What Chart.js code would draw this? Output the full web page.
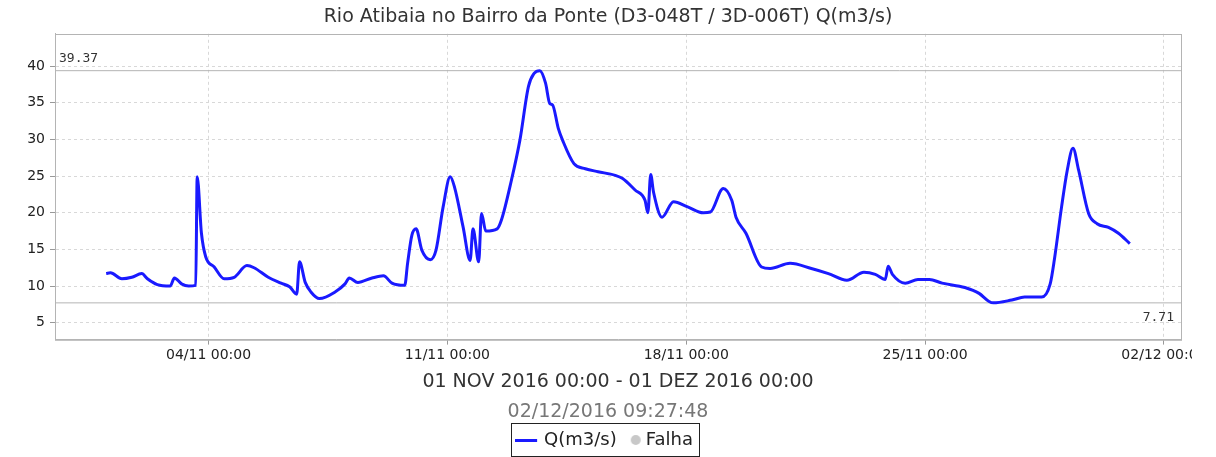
<!DOCTYPE html>
<html>
<head>
<meta charset="utf-8">
<script src="https://cdn.jsdelivr.net/npm/chart.js@4.4.0/dist/chart.umd.min.js"></script>
<style>
html, body { margin: 0; padding: 0; background: #fff; }
#wrap { width: 1192px; height: 457px; overflow: hidden; }
</style>
</head>
<body>
<div id="wrap"><canvas id="vazao" width="1216" height="457"></canvas></div>
<script>
// horas desde 01/11/2016 00:00
const hours = [0, 3, 11, 18, 25, 29, 36, 45, 48, 53, 58, 63, 64, 67, 70, 76, 83, 90, 99, 104,
  114, 123, 129, 134, 136, 140, 144, 150, 161, 168, 171, 177, 187, 195, 201, 210, 212, 215, 218, 222,
  228, 232, 237, 242, 245, 251, 256, 258, 262, 264, 267, 275, 278, 285, 291, 297, 301, 305, 309, 312,
  314, 318, 321, 329, 337, 346, 358, 363, 372, 379, 381, 383, 385, 391, 399, 409, 420, 425, 434, 440,
  443, 450, 461, 467, 481, 496, 508, 521, 533, 541, 548, 550, 553, 562, 571, 579, 588, 604, 614, 621,
  624, 637, 646, 658, 664, 667, 672, 676, 680, 684, 691, 697, 705, 712, 720];
const flow = [11.7, 11.8, 11.0, 11.2, 11.7, 11.0, 10.2, 10.0, 11.1, 10.3, 10.0, 10.1, 24.9, 17.2, 14.0, 12.6, 11.0, 11.2, 12.8, 12.5,
  11.2, 10.4, 9.9, 8.9, 13.3, 10.5, 9.2, 8.3, 9.2, 10.3, 11.1, 10.5, 11.1, 11.4, 10.4, 10.1, 13.1, 16.9, 17.8, 14.9,
  13.6, 14.9, 20.8, 24.9, 23.5, 18.1, 13.5, 17.8, 13.3, 19.9, 17.5, 17.8, 19.0, 24.4, 29.9, 37.2, 39.0, 39.37, 37.7, 34.9,
  34.7, 31.5, 29.9, 26.7, 26.0, 25.6, 25.1, 24.7, 23.1, 21.7, 20.0, 25.2, 22.8, 19.4, 21.5, 20.8, 20.0, 20.1, 23.3, 21.7,
  19.4, 17.2, 12.6, 12.4, 13.1, 12.4, 11.7, 10.8, 11.9, 11.6, 10.9, 12.7, 11.6, 10.4, 10.9, 10.9, 10.4, 9.8, 9.0, 7.9,
  7.71, 8.1, 8.5, 8.5, 10.3, 13.7, 20.8, 25.8, 28.8, 25.8, 19.9, 18.5, 18.0, 17.2, 15.8];
const xTicks = [72, 240, 408, 576, 744];
const yTicks = [5, 10, 15, 20, 25, 30, 35, 40];
const xMin = -36, xMax = 756;
const maxFlow = Math.max(...flow);
const minFlow = Math.min(...flow);

Chart.defaults.font.family = '"DejaVu Sans", sans-serif';

function fmtTick(h) {
  const d = new Date(Date.UTC(2016, 10, 1) + h * 3600000);
  const p = n => String(n).padStart(2, '0');
  return p(d.getUTCDate()) + '/' + p(d.getUTCMonth() + 1) + ' ' + p(d.getUTCHours()) + ':' + p(d.getUTCMinutes());
}

// amostras da legenda
const lineImg = document.createElement('canvas');
lineImg.width = 28;
lineImg.height = 3;
let c = lineImg.getContext('2d');
c.fillStyle = '#1a1aff';
c.fillRect(0, 0, 22, 3);

const dotImg = document.createElement('canvas');
dotImg.width = 22;
dotImg.height = 12;
c = dotImg.getContext('2d');
c.fillStyle = '#c8c8c8';
c.beginPath();
c.arc(16, 6, 5, 0, Math.PI * 2);
c.fill();

const frame = {
  id: 'frame',
  afterDraw(chart) {
    const { ctx, chartArea: a, scales: { y } } = chart;
    ctx.save();
    ctx.strokeStyle = '#b4b4b4';
    ctx.lineWidth = 1;
    ctx.strokeRect(Math.round(a.left) + 0.5, Math.round(a.top) + 0.5, a.right - a.left, a.bottom - a.top);

    ctx.font = '13px "DejaVu Sans Mono"';
    ctx.fillStyle = '#333';
    ctx.textBaseline = 'alphabetic';
    ctx.textAlign = 'left';
    ctx.fillText(maxFlow.toFixed(2), a.left + 4, y.getPixelForValue(maxFlow) - 9);
    ctx.textAlign = 'right';
    ctx.fillText(minFlow.toFixed(2), a.right - 7, y.getPixelForValue(minFlow) + 18);

    const hb = chart.legend.legendHitBoxes;
    if (hb.length) {
      const l = hb[0].left - 12;
      const last = hb[hb.length - 1];
      const r = last.left + last.width + 6;
      const t = hb[0].top - 8;
      const b = hb[0].top + hb[0].height + 7;
      ctx.strokeStyle = '#222';
      ctx.lineWidth = 1;
      ctx.strokeRect(Math.round(l) + 0.5, Math.round(t) + 0.5, Math.round(r - l), Math.round(b - t));
    }
    ctx.restore();
  }
};

new Chart(document.getElementById('vazao'), {
  type: 'line',
  data: {
    datasets: [
      {
        label: 'Q(m3/s)',
        data: hours.map((h, i) => ({ x: h, y: flow[i] })),
        borderColor: '#1a1aff',
        backgroundColor: '#1a1aff',
        borderWidth: 3,
        pointRadius: 0,
        pointStyle: lineImg,
        cubicInterpolationMode: 'monotone',
      },
      {
        label: 'Falha',
        data: [],
        borderColor: '#c8c8c8',
        backgroundColor: '#c8c8c8',
        pointStyle: dotImg,
        showLine: false,
      },
      {
        label: 'max',
        data: [{ x: xMin, y: maxFlow }, { x: xMax, y: maxFlow }],
        borderColor: '#b4b4b4',
        borderWidth: 1,
        pointRadius: 0,
      },
      {
        label: 'min',
        data: [{ x: xMin, y: minFlow }, { x: xMax, y: minFlow }],
        borderColor: '#b4b4b4',
        borderWidth: 1,
        pointRadius: 0,
      },
    ],
  },
  options: {
    responsive: false,
    animation: false,
    layout: { padding: { left: 0, right: 0, top: 0, bottom: -2 } },
    scales: {
      x: {
        type: 'linear',
        min: xMin,
        max: xMax,
        afterBuildTicks: s => { s.ticks = xTicks.map(v => ({ value: v })); },
        ticks: {
          callback: v => fmtTick(v),
          autoSkip: false,
          maxRotation: 0,
          color: '#222',
          font: { size: 14 },
          padding: 2,
        },
        grid: { color: '#d8d8d8', tickColor: '#999', tickLength: 5, tickBorderDash: [] },
        border: { color: '#b4b4b4', dash: [3, 3] },
        title: {
          display: true,
          text: '01 NOV 2016 00:00 - 01 DEZ 2016 00:00',
          color: '#333',
          font: { size: 19 },
          padding: { top: 5, bottom: 4 },
        },
      },
      y: {
        min: 2.7,
        max: 44.4,
        afterBuildTicks: s => { s.ticks = yTicks.map(v => ({ value: v })); },
        afterFit: s => { s.width = 55; },
        ticks: { color: '#222', font: { size: 14 }, padding: 5 },
        grid: { color: '#d8d8d8', tickColor: '#999', tickLength: 5, tickBorderDash: [] },
        border: { color: '#b4b4b4', dash: [3, 3] },
      },
      // margem direita vazia
      yr: {
        position: 'right',
        min: 0,
        max: 1,
        afterFit: s => { s.width = 35; },
        ticks: { display: false },
        grid: { display: false },
        border: { display: false },
      },
    },
    plugins: {
      title: {
        display: true,
        text: 'Rio Atibaia no Bairro da Ponte (D3-048T / 3D-006T) Q(m3/s)',
        color: '#333',
        font: { size: 19, weight: 'normal' },
        padding: { top: 6, bottom: 5 },
      },
      subtitle: {
        display: true,
        position: 'bottom',
        weight: 500,
        text: '02/12/2016 09:27:48',
        color: '#777',
        font: { size: 19 },
        padding: { top: 3, bottom: 0 },
      },
      legend: {
        position: 'bottom',
        labels: {
          usePointStyle: true,
          boxWidth: 12,
          boxHeight: 7,
          color: '#222',
          font: { size: 18 },
          padding: 8,
          filter: item => item.datasetIndex < 2,
        },
      },
      tooltip: { enabled: false },
    },
  },
  plugins: [frame],
});
</script>
</body>
</html>
